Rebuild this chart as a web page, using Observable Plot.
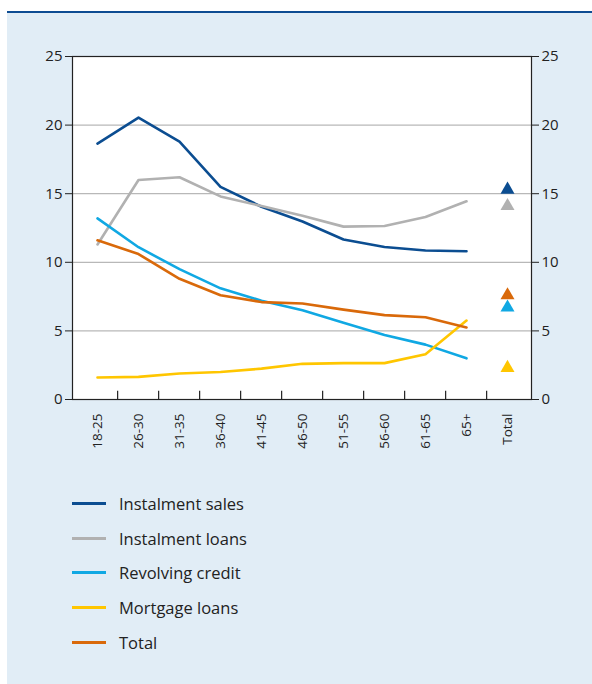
<!DOCTYPE html>
<html>
<head>
<meta charset="utf-8">
<script src="https://cdn.jsdelivr.net/npm/d3@7"></script>
<script src="https://cdn.jsdelivr.net/npm/@observablehq/plot@0.6"></script>
<style>
  html, body { margin: 0; padding: 0; background: #ffffff; }
  #panel {
    position: absolute; left: 7px; top: 11px; width: 585px; height: 673px;
    background: #e1edf6; border-top: 2px solid #0d4c92;
    font-family: "Open Sans", "Noto Sans", sans-serif; color: #222;
  }
  #legend { position: absolute; left: 65px; top: 473px; }
  .row { display: flex; align-items: center; height: 34.7px; font-size: 16.5px; }
  .sw { width: 34px; height: 3px; margin-right: 13px; }
</style>
</head>
<body>
<div id="panel"><div id="chart"></div><div id="legend"></div></div>
<script>
const categories = ["18-25","26-30","31-35","36-40","41-45","46-50","51-55","56-60","61-65","65+","Total"];
const ageGroups = categories.slice(0, 10);
const seriesNames = ["Instalment sales","Instalment loans","Revolving credit","Mortgage loans","Total"];
const seriesColors = ["#0b4d91","#b1b1b1","#10a8e3","#ffc600","#d9690a"];
const instalmentSales = [18.65, 20.55, 18.8, 15.5, 14.05, 12.97, 11.66, 11.12, 10.86, 10.8];
const instalmentLoans = [11.3, 16.0, 16.2, 14.8, 14.1, 13.4, 12.6, 12.65, 13.3, 14.45];
const revolvingCredit = [13.2, 11.1, 9.5, 8.1, 7.2, 6.5, 5.6, 4.7, 4.0, 3.0];
const mortgageLoans = [1.6, 1.65, 1.9, 2.0, 2.25, 2.6, 2.65, 2.65, 3.3, 5.75];
const totalSeries = [11.6, 10.6, 8.8, 7.6, 7.1, 7.0, 6.55, 6.15, 6.0, 5.25];
const totals = [15.3, 14.1, 6.7, 2.3, 7.6];
const yTicks = [0, 5, 10, 15, 20, 25];
const gridTicks = [5, 10, 15, 20];

const seriesValues = [instalmentSales, instalmentLoans, revolvingCredit, mortgageLoans, totalSeries];
const lineData = seriesNames.flatMap((s, i) => ageGroups.map((a, j) => ({series: s, age: a, value: seriesValues[i][j]})));
const totalData = seriesNames.map((s, i) => ({series: s, age: "Total", value: totals[i]}));
const W = 585, ML = 65, MR = 61;
const step = (W - ML - MR) / categories.length;

const chart = Plot.plot({
  width: W, height: 470,
  marginLeft: ML, marginRight: MR, marginTop: 43, marginBottom: 84,
  style: {background: "transparent", fontFamily: "'Open Sans', 'Noto Sans', sans-serif", fontSize: "13px", color: "#222"},
  x: {type: "point", domain: categories, padding: 0.5, label: null},
  y: {domain: [0, 25], label: null},
  color: {domain: seriesNames, range: seriesColors},
  marks: [
    Plot.frame({fill: "white", stroke: "none"}),
    Plot.ruleY(gridTicks, {stroke: "#b8b8b8", strokeWidth: 1.2}),
    Plot.line(lineData, {x: "age", y: "value", z: "series", stroke: "series", strokeWidth: 2.6, strokeLinejoin: "round"}),
    Plot.dot(totalData, {x: "age", y: "value", fill: "series", symbol: "triangle", r: 5.2}),
    Plot.ruleX(categories.slice(1), {y1: 0, y2: 0.6, dx: -step / 2, stroke: "#222", strokeWidth: 1.2}),
    Plot.frame({stroke: "#222", strokeWidth: 1.2}),
    Plot.axisY(yTicks, {anchor: "left", tickSize: 7, tickPadding: 3, fontSize: 15}),
    Plot.axisY(yTicks, {anchor: "right", tickSize: 7, tickPadding: 3, fontSize: 15}),
    Plot.axisX(categories, {tickSize: 0, tickRotate: -90, tickPadding: 14, fontSize: 13.5})
  ]
});
document.getElementById("chart").appendChild(chart);

const legend = document.getElementById("legend");
seriesNames.forEach((s, i) => {
  const row = document.createElement("div");
  row.className = "row";
  const sw = document.createElement("div");
  sw.className = "sw";
  sw.style.background = seriesColors[i];
  const t = document.createElement("span");
  t.textContent = s;
  row.appendChild(sw); row.appendChild(t);
  legend.appendChild(row);
});
</script>
</body>
</html>
